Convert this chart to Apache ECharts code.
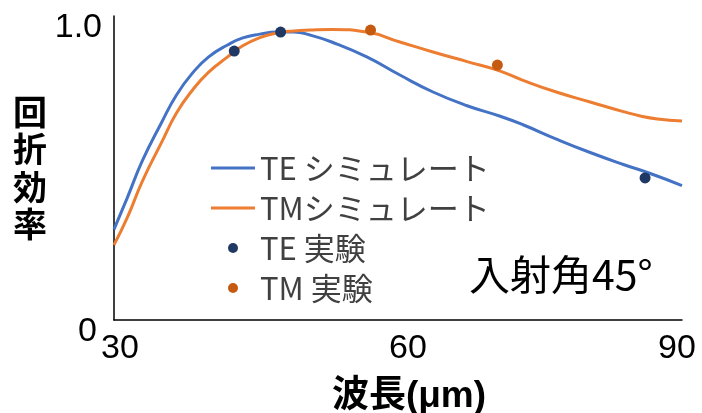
<!DOCTYPE html>
<html>
<head>
<meta charset="utf-8">
<script src="https://cdn.jsdelivr.net/npm/echarts@6/dist/echarts.min.js"></script>
<style>
  html, body { margin: 0; padding: 0; background: #fff; }
  #chart { width: 702px; height: 413px; }
</style>
</head>
<body>
<div id="chart"></div>
<script>
// Wavelength (μm) / diffraction efficiency, incident angle 45°
const teSimWavelength = [30, 31.4, 33, 35, 36.6, 38.3, 40, 42, 43.6, 45.4, 47.2, 49, 50.7, 53, 56.7, 60.2, 63.7, 67.3, 70.8, 73.2, 76.8, 80.3, 83.8, 86.5, 90];
const teSimEfficiency = [0.31, 0.418, 0.545, 0.674, 0.77, 0.845, 0.9, 0.941, 0.965, 0.978, 0.985, 0.985, 0.975, 0.951, 0.9, 0.838, 0.78, 0.733, 0.697, 0.668, 0.618, 0.573, 0.532, 0.503, 0.46];

const tmSimWavelength = [30, 31.4, 33, 35, 36.6, 38.3, 40, 42, 43.6, 45.4, 47.2, 49, 50.7, 53, 56.7, 60.2, 63.7, 67.3, 70.5, 73.2, 76.8, 80.3, 83.8, 85.6, 87.4, 90];
const tmSimEfficiency = [0.257, 0.35, 0.475, 0.606, 0.708, 0.787, 0.848, 0.9, 0.938, 0.966, 0.982, 0.989, 0.992, 0.994, 0.985, 0.951, 0.917, 0.884, 0.855, 0.82, 0.779, 0.746, 0.713, 0.698, 0.688, 0.681];

const teExpWavelength = [42.7, 47.6, 86.1];
const teExpEfficiency = [0.92, 0.985, 0.486];

const tmExpWavelength = [57.1, 70.5];
const tmExpEfficiency = [0.992, 0.872];

const xTicks = [30, 60, 90];
const yTicks = [0, 1];

const seriesNames = ['TE シミュレート', 'TMシミュレート', 'TE 実験', 'TM 実験'];

const pairs = (xs, ys) => xs.map((x, i) => [x, ys[i]]);

const latin = "'Liberation Sans', Arial, 'Noto Sans CJK JP', sans-serif";
const jp = "'Noto Sans CJK JP', 'Liberation Sans', sans-serif";

// plain bar icon for the simulation curves in the legend
const lineIcon = 'path://M0 0H44V3H0Z';

const chart = echarts.init(document.getElementById('chart'), null, { renderer: 'canvas' });

chart.setOption({
  animation: false,
  backgroundColor: '#ffffff',
  grid: { left: 114, right: 20, top: 16, bottom: 93, outerBoundsMode: 'none', containLabel: false },
  xAxis: {
    type: 'value',
    min: xTicks[0],
    max: xTicks[xTicks.length - 1],
    interval: 30,
    axisLine: { show: true, lineStyle: { color: '#000', width: 1.5 } },
    axisTick: { show: false },
    splitLine: { show: false },
    axisLabel: {
      margin: 12,
      color: '#000',
      fontFamily: latin,
      fontSize: 34,
      formatter: v => v === 30 ? '{a|30}' : v === 60 ? '{b|60}' : '{c|90}',
      rich: {
        a: { fontFamily: latin, fontSize: 34, color: '#000', padding: [0, 0, 0, 12] },
        b: { fontFamily: latin, fontSize: 34, color: '#000', padding: [0, 0, 0, 20] },
        c: { fontFamily: latin, fontSize: 34, color: '#000', padding: [0, 10, 0, 0] }
      }
    },
    name: '波長(μm)',
    nameLocation: 'middle',
    nameGap: 58,
    nameTextStyle: {
      fontFamily: latin,
      fontWeight: 'bold',
      fontSize: 37,
      color: '#000',
      padding: [0, 0, 0, 22]
    }
  },
  yAxis: {
    type: 'value',
    min: 0,
    max: 1.04,
    axisLine: { show: true, lineStyle: { color: '#000', width: 1.5 } },
    axisTick: { show: false },
    splitLine: { show: false },
    axisLabel: {
      customValues: yTicks,
      margin: 12,
      color: '#000',
      fontFamily: latin,
      fontSize: 34,
      formatter: v => v === 0 ? '{z|0}' : '{o|1.0}',
      rich: {
        z: { fontFamily: latin, fontSize: 34, color: '#000', padding: [24, 5, 0, 0] },
        o: { fontFamily: latin, fontSize: 34, color: '#000' }
      }
    },
    name: '回\n折\n効\n率',
    nameLocation: 'middle',
    nameRotate: 0,
    nameGap: 67,
    nameTextStyle: {
      fontFamily: jp,
      fontWeight: 'bold',
      fontSize: 34,
      lineHeight: 37.5,
      color: '#000',
      padding: [40, 0, 0, 0]
    }
  },
  legend: {
    orient: 'vertical',
    left: 206,
    top: 147,
    itemWidth: 44,
    itemHeight: 10,
    itemGap: 8,
    data: [
      { name: seriesNames[0], icon: lineIcon },
      { name: seriesNames[1], icon: lineIcon },
      { name: seriesNames[2] },
      { name: seriesNames[3] }
    ],
    textStyle: {
      fontFamily: jp,
      fontSize: 31,
      lineHeight: 32,
      color: '#404040'
    }
  },
  graphic: [{
    type: 'text',
    left: 469,
    top: 254,
    style: {
      text: '入射角45°',
      fontFamily: jp,
      fontSize: 41,
      fill: '#000'
    }
  }],
  series: [
    {
      name: seriesNames[0],
      type: 'line',
      data: pairs(teSimWavelength, teSimEfficiency),
      smooth: 0.5,
      symbol: 'none',
      lineStyle: { color: '#4472C4', width: 3 },
      itemStyle: { color: '#4472C4' },
      z: 2
    },
    {
      name: seriesNames[1],
      type: 'line',
      data: pairs(tmSimWavelength, tmSimEfficiency),
      smooth: 0.5,
      symbol: 'none',
      lineStyle: { color: '#ED7D31', width: 3 },
      itemStyle: { color: '#ED7D31' },
      z: 2
    },
    {
      name: seriesNames[2],
      type: 'scatter',
      data: pairs(teExpWavelength, teExpEfficiency),
      symbol: 'circle',
      symbolSize: 11,
      itemStyle: { color: '#203864', opacity: 1 },
      z: 3
    },
    {
      name: seriesNames[3],
      type: 'scatter',
      data: pairs(tmExpWavelength, tmExpEfficiency),
      symbol: 'circle',
      symbolSize: 11,
      itemStyle: { color: '#C55A11', opacity: 1 },
      z: 3
    }
  ]
});
</script>
</body>
</html>
